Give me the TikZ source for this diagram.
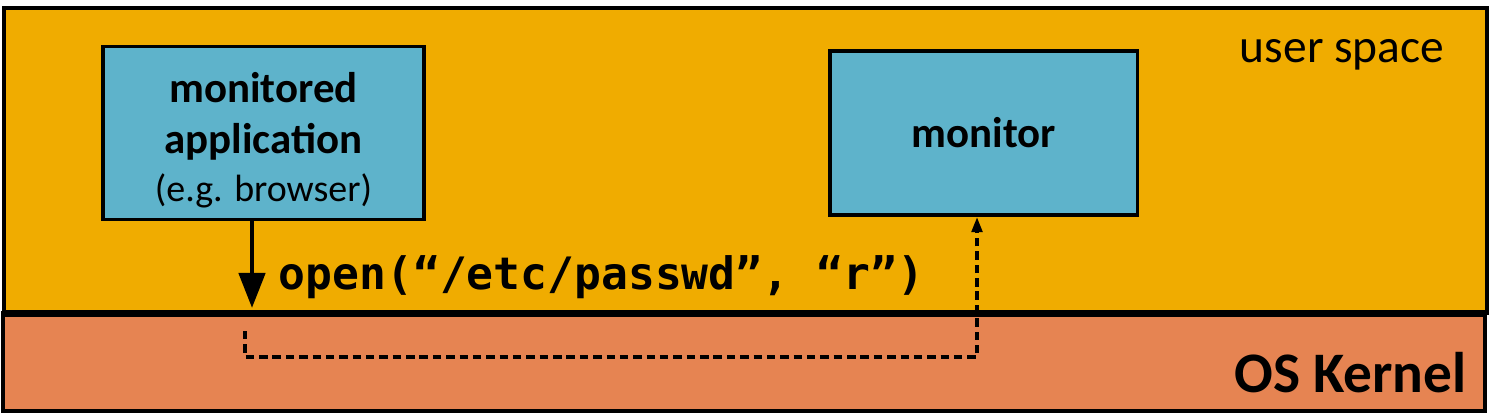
\documentclass[tikz,border=0pt]{standalone}
\usepackage{fontspec}
\setmainfont{Carlito}
\newfontfamily\codefont{DejaVu Sans Mono}
\usetikzlibrary{arrows.meta}
\definecolor{usergold}{RGB}{240,172,0}
\definecolor{kernelorange}{RGB}{230,132,82}
\definecolor{procblue}{RGB}{94,179,203}
\begin{document}
\begin{tikzpicture}[x=0.01cm, y=-0.01cm, node distance=7.2cm,
  area/.style={draw, line width=1.1pt},
  proc/.style={draw, line width=1.1pt, fill=procblue, minimum height=1.64cm, align=center, font=\fontsize{12.2}{14.5}\selectfont\bfseries}]
\useasboundingbox (0,0) rectangle (1491,417);
\draw[area, fill=usergold] (4,8) rectangle (1487,313);
\draw[area, fill=kernelorange] (3,313) rectangle (1485,411);
\draw[line width=2pt] (3,313) -- (1487,313);
\node (user) [anchor=base east, inner sep=0, font=\fontsize{13.5}{16}\selectfont] at (1445,62) {user space};
\node (kernel) [anchor=base east, inner sep=0, font=\fontsize{16.3}{19}\selectfont\bfseries] at (1467,392) {OS Kernel};
\node (app) [proc, minimum width=3.21cm] at (263.5,133) {\rule{0pt}{12.5pt}monitored\\application\\[-0.8pt]{\fontsize{10.8}{13}\selectfont\mdseries (e.g. browser)}};
\node (mon) [proc, minimum width=3.07cm, right of=app] {monitor};
\node (call) [anchor=base west, inner sep=0, font=\fontsize{12.7}{15}\selectfont\codefont\bfseries] at (278,289) {open(“/etc/passwd”, “r”)};
\coordinate (entry) at (252,308);
\coordinate (trap) at (245,331);
\coordinate (hook) at (977,357);
\draw[line width=1.4pt, -{Triangle[length=10pt, width=7.4pt]}] (app.south -| entry) -- (entry);
\draw[line width=1pt, dash pattern=on 2.4pt off 1.4pt, -{Triangle[length=4.3pt, width=3pt]}] (trap) |- (hook) -- (mon.south -| hook);
\end{tikzpicture}
\end{document}
